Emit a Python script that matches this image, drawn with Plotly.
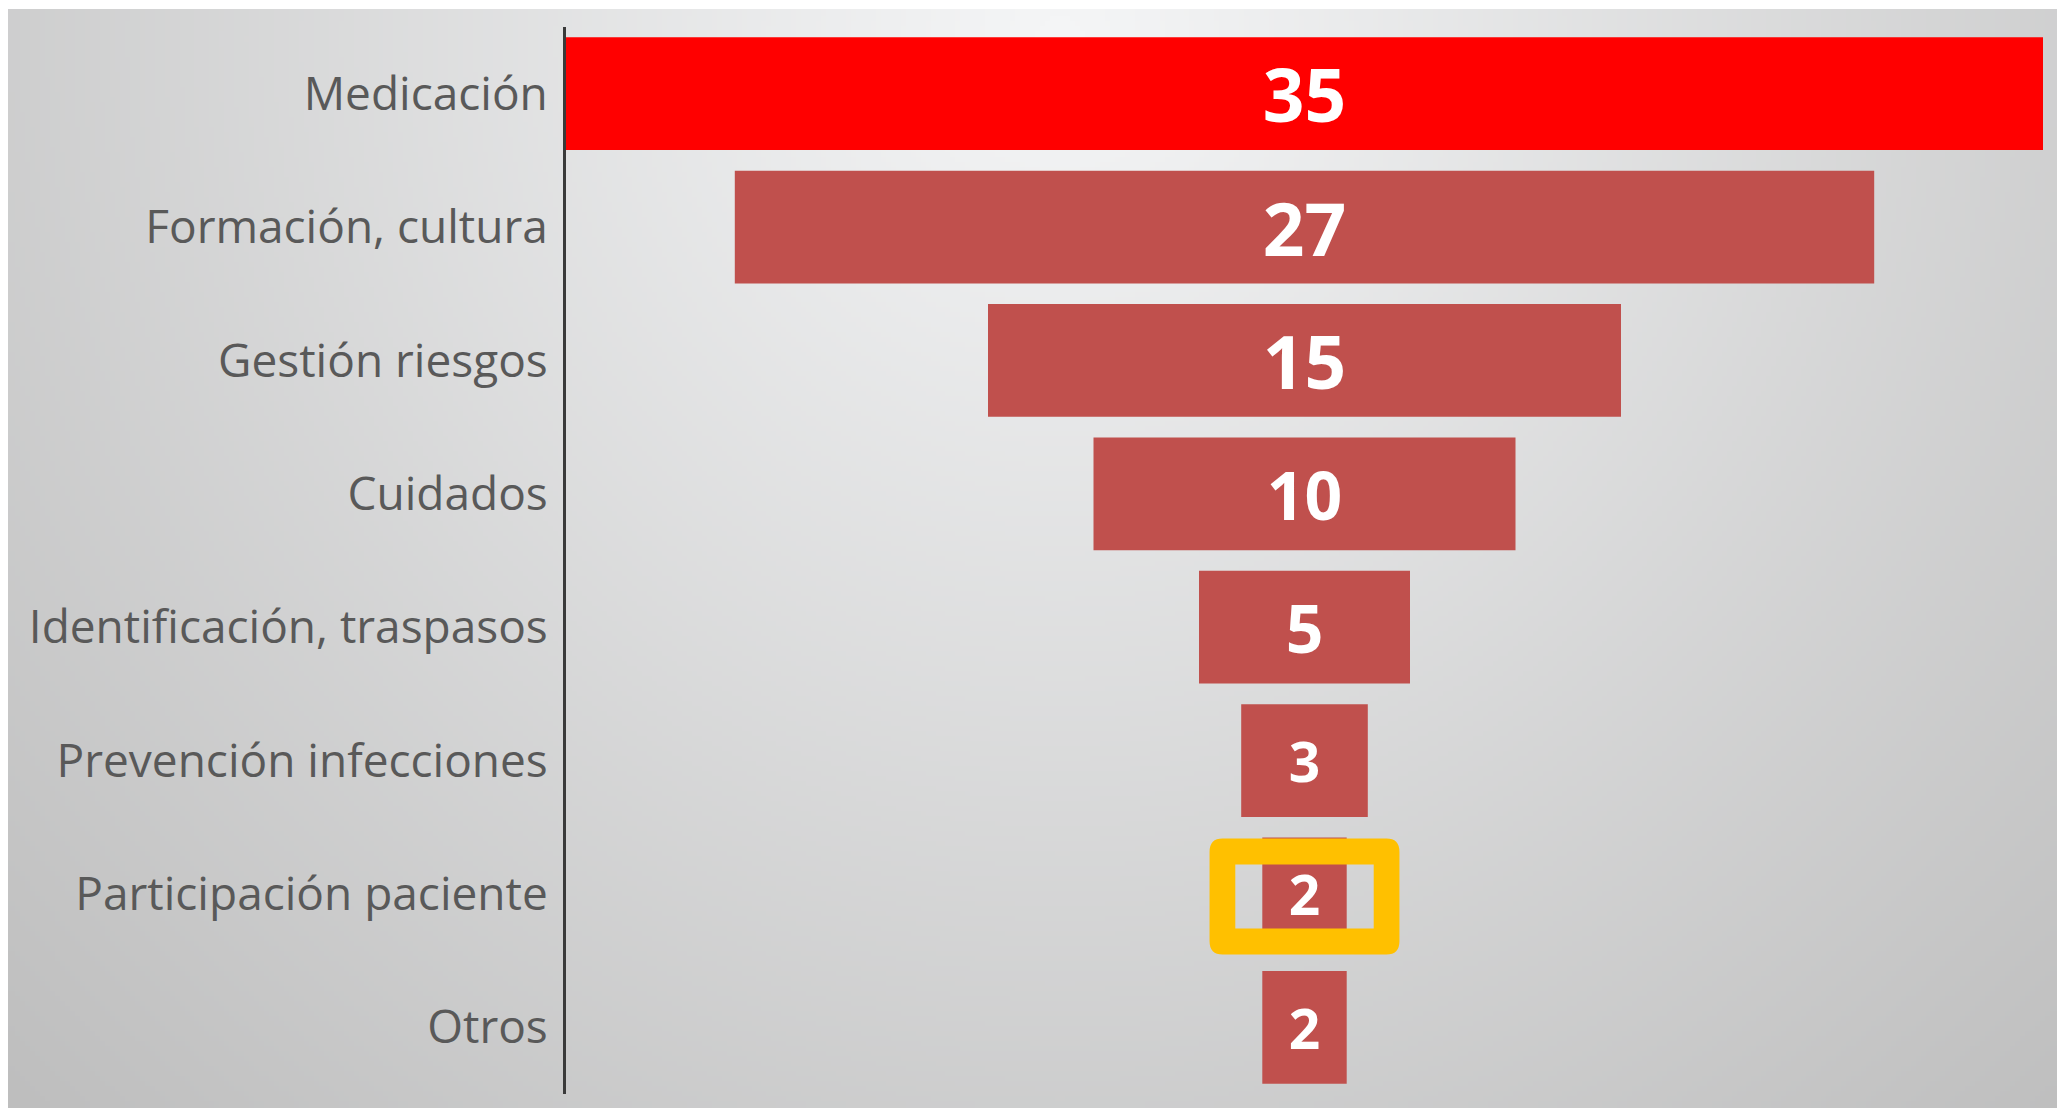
import base64
import struct
import zlib

import numpy as np
import plotly.graph_objects as go

# ---------------- data ----------------
categories = [
    "Medicación",
    "Formación, cultura",
    "Gestión riesgos",
    "Cuidados",
    "Identificación, traspasos",
    "Prevención infecciones",
    "Participación paciente",
    "Otros",
]
values = [35, 27, 15, 10, 5, 3, 2, 2]
highlight_category = "Participación paciente"

# ---------------- styles ----------------
bar_colors = ["#FF0000"] + ["#C0504D"] * 7
value_font_sizes = [73, 73, 73, 66, 66, 55, 55, 55]

W, H = 2057, 1108
ML, MR, MT, MB = 566, 14, 27, 14
PW, PH = W - ML - MR, H - MT - MB


def png_data_uri(arr):
    h, w, _ = arr.shape
    raw = b"".join(b"\x00" + arr[i].tobytes() for i in range(h))

    def chunk(tag, data):
        c = struct.pack(">I", len(data)) + tag + data
        return c + struct.pack(">I", zlib.crc32(tag + data) & 0xFFFFFFFF)

    png = (
        b"\x89PNG\r\n\x1a\n"
        + chunk(b"IHDR", struct.pack(">IIBBBBB", w, h, 8, 2, 0, 0, 0))
        + chunk(b"IDAT", zlib.compress(raw, 9))
        + chunk(b"IEND", b"")
    )
    return "data:image/png;base64," + base64.b64encode(png).decode()


# radial grey background (light near top centre, darker towards edges)
bx0, by0 = 8, 9
gw, gh = 412, 220
xs = bx0 + (np.arange(gw) + 0.5) * (W - bx0) / gw
ys = by0 + (np.arange(gh) + 0.5) * (H - by0) / gh
X, Y = np.meshgrid(xs, ys)
t = np.sqrt(((X - 1060) / 1550.0) ** 2 + ((Y - 40) / 1550.0) ** 2)
t = np.clip(t, 0, 1) ** 1.0
light = np.array([245, 246, 247], dtype=float)
dark = np.array([188, 188, 188], dtype=float)
img = (light[None, None, :] + (dark - light)[None, None, :] * t[..., None]).astype(np.uint8)
bg_uri = png_data_uri(img)


def px2paper_x(px):
    return (px - ML) / PW


def px2paper_y(py):
    return 1 - (py - MT) / PH


fig = go.Figure(
    go.Funnel(
        y=categories,
        x=values,
        orientation="h",
        marker=dict(color=bar_colors, line=dict(width=0)),
        connector=dict(visible=False),
        texttemplate="%{x}",
        textposition="inside",
        insidetextanchor="middle",
        constraintext="none",
        textfont=dict(color="white", size=value_font_sizes, family="Open Sans", weight="bold"),
        hoverinfo="skip",
    )
)

# highlight frame around the chosen category (rounded outer border, square hole)
maxv = max(values)
ci = categories.index(highlight_category)
hv = values[ci]
ox = hv / 2 + 1.25
ix = hv / 2 + 0.64
yc = ci + 0.02
oy = 0.435
iy = 0.24
rx, ry = 0.31, 0.1
outer = (
    f"M {-ox + rx},{yc - oy} L {ox - rx},{yc - oy} Q {ox},{yc - oy} {ox},{yc - oy + ry} "
    f"L {ox},{yc + oy - ry} Q {ox},{yc + oy} {ox - rx},{yc + oy} "
    f"L {-ox + rx},{yc + oy} Q {-ox},{yc + oy} {-ox},{yc + oy - ry} "
    f"L {-ox},{yc - oy + ry} Q {-ox},{yc - oy} {-ox + rx},{yc - oy} Z"
)
inner = (
    f"M {-ix},{yc - iy} L {-ix},{yc + iy} L {ix},{yc + iy} L {ix},{yc - iy} Z"
)
fig.add_shape(
    type="path",
    path=outer + " " + inner,
    xref="x",
    yref="y",
    fillcolor="#FFC000",
    line=dict(width=0),
    layer="above",
)

fig.update_layout(
    width=W,
    height=H,
    margin=dict(l=ML, r=MR, t=MT, b=MB, pad=0),
    paper_bgcolor="white",
    plot_bgcolor="rgba(0,0,0,0)",
    showlegend=False,
    funnelgap=0.155,
    font=dict(family="Open Sans", color="#595959"),
    xaxis=dict(
        range=[-maxv / 2, maxv / 2],
        visible=False,
        fixedrange=True,
    ),
    yaxis=dict(
        type="category",
        categoryorder="array",
        categoryarray=categories,
        range=[len(categories) - 0.5, -0.5],
        autorange=False,
        showline=True,
        linecolor="#3a3a3a",
        linewidth=3,
        showgrid=False,
        zeroline=False,
        ticks="",
        ticklabelstandoff=6,
        tickfont=dict(family="Open Sans", size=46, color="#595959"),
        fixedrange=True,
    ),
    images=[
        dict(
            source=bg_uri,
            xref="paper",
            yref="paper",
            x=px2paper_x(bx0),
            y=px2paper_y(by0),
            sizex=(W - bx0) / PW,
            sizey=(H - by0) / PH,
            xanchor="left",
            yanchor="top",
            sizing="stretch",
            layer="below",
        )
    ],
)

fig.write_html("out.html", config={"displayModeBar": False})
